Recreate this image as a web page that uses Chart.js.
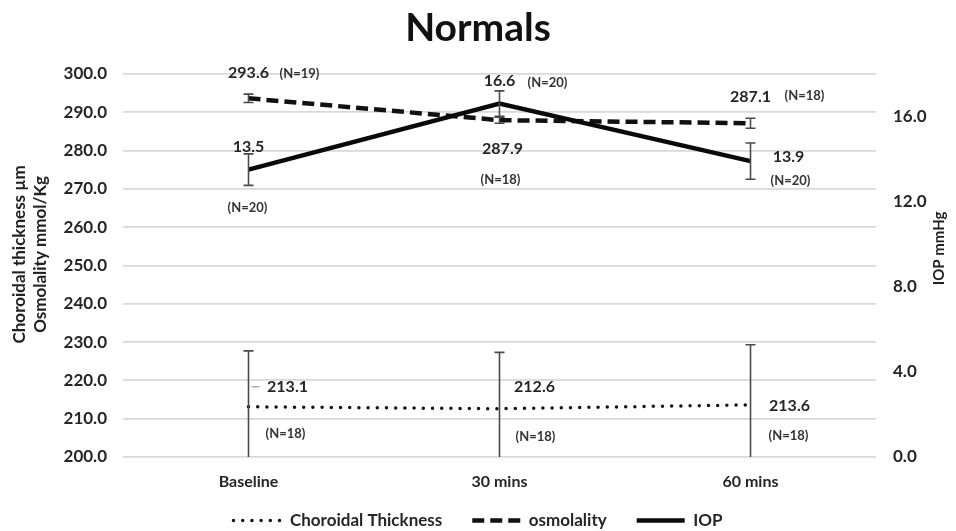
<!DOCTYPE html>
<html>
<head>
<meta charset="utf-8">
<script src="https://cdn.jsdelivr.net/npm/chart.js@4.4.1/dist/chart.umd.min.js"></script>
<style>
html,body{margin:0;padding:0;background:#fff;}
#wrap{width:956px;height:531px;position:relative;}
</style>
</head>
<body>
<div id="wrap"><canvas id="c" width="956" height="531"></canvas></div>
<script>
// ---- data ----
const categories = ['Baseline', '30 mins', '60 mins'];
const choroidal = [213.1, 212.6, 213.6];
const choroidalErr = [14.6, 14.7, 15.7];
const choroidalN = ['(N=18)', '(N=18)', '(N=18)'];
const osmolality = [293.6, 287.9, 287.1];
const osmolalityErr = [1.1, 0.8, 1.3];
const osmolalityN = ['(N=19)', '(N=18)', '(N=18)'];
const iop = [13.5, 16.6, 13.9];
const iopErr = [0.74, 0.6, 0.85];
const iopN = ['(N=20)', '(N=20)', '(N=20)'];
const leftRange = [200, 300, 10];
const rightRange = [0, 18, 4];
const titleText = 'Normals';
const leftTitle = ['Choroidal thickness µm', 'Osmolality mmol/Kg'];
const rightTitle = 'IOP mmHg';

const FONT = 'Lato';

// label placement (offsets from each point, in px)
const labelPlacement = {
  choroidal: [
    {v: [39, -20], n: [37, 27], leader: true},
    {v: [35, -22], n: [36, 28]},
    {v: [39, 1], n: [38, 31]}
  ],
  osmolality: [
    {v: [0, -25], n: [51, -25]},
    {v: [3, 29], n: [1, 60]},
    {v: [0, -26], n: [54, -27]}
  ],
  iop: [
    {v: [0, -23], n: [-1, 38]},
    {v: [0, -23], n: [48, -21]},
    {v: [38, -4], n: [40, 20]}
  ]
};

const legendFitPlugin = {
  id: 'legendFit',
  beforeInit(chart) {
    const lg = chart.legend;
    const orig = lg.fit;
    lg.fit = function () {
      orig.call(this);
      this.height = 28;
    };
  },
  afterLayout(chart) {
    chart.legend.top -= 15;
    chart.legend.bottom = chart.height;
  }
};

const errorBarPlugin = {
  id: 'errorBars',
  afterDatasetsDraw(chart) {
    const ctx = chart.ctx;
    const area = chart.chartArea;
    ctx.save();
    ctx.beginPath();
    ctx.rect(area.left, area.top - 1, area.right - area.left, area.bottom - area.top + 2);
    ctx.clip();
    ctx.strokeStyle = '#4a4a4a';
    ctx.lineWidth = 1.6;
    chart.data.datasets.forEach((ds, di) => {
      const meta = chart.getDatasetMeta(di);
      const ys = chart.scales[ds.yAxisID];
      ds.errors.forEach((e, i) => {
        const pt = meta.data[i];
        const x = pt.x;
        const v = ds.data[i];
        const yT = ys.getPixelForValue(v + e);
        const yB = ys.getPixelForValue(v - e);
        ctx.beginPath();
        ctx.moveTo(x, Math.max(yT, area.top));
        ctx.lineTo(x, Math.min(yB, area.bottom));
        if (yT >= area.top) { ctx.moveTo(x - 5, yT); ctx.lineTo(x + 5, yT); }
        if (yB <= area.bottom) { ctx.moveTo(x - 5, yB); ctx.lineTo(x + 5, yB); }
        ctx.stroke();
      });
    });
    ctx.restore();
  }
};

const labelsPlugin = {
  id: 'pointLabels',
  afterDraw(chart) {
    const ctx = chart.ctx;
    ctx.save();
    ctx.textAlign = 'center';
    ctx.textBaseline = 'middle';
    chart.data.datasets.forEach((ds, di) => {
      const meta = chart.getDatasetMeta(di);
      const place = labelPlacement[ds.key];
      ds.data.forEach((v, i) => {
        const pt = meta.data[i];
        const p = place[i];
        ctx.fillStyle = '#262626';
        ctx.font = 'bold 16px ' + FONT;
        ctx.fillText(v.toFixed(1), pt.x + p.v[0], pt.y + p.v[1]);
        ctx.font = 'bold 13px ' + FONT;
        ctx.fillStyle = '#333333';
        ctx.fillText(ds.nLabels[i], pt.x + p.n[0], pt.y + p.n[1]);
        if (p.leader) {
          ctx.strokeStyle = '#888';
          ctx.lineWidth = 1;
          ctx.beginPath();
          ctx.moveTo(pt.x + 3, pt.y + p.v[1]);
          ctx.lineTo(pt.x + 11, pt.y + p.v[1]);
          ctx.stroke();
        }
      });
    });
    // axis titles
    ctx.fillStyle = '#222';
    ctx.font = 'bold 17px ' + FONT;
    const cy = (chart.chartArea.top + chart.chartArea.bottom) / 2 - 11;
    ctx.save();
    ctx.translate(20, cy);
    ctx.rotate(-Math.PI / 2);
    ctx.fillText(leftTitle[0], 0, 0);
    ctx.restore();
    ctx.save();
    ctx.translate(41, cy);
    ctx.rotate(-Math.PI / 2);
    ctx.fillText(leftTitle[1], 0, 0);
    ctx.restore();
    ctx.font = 'bold 15px ' + FONT;
    ctx.save();
    ctx.translate(939, cy - 6);
    ctx.rotate(-Math.PI / 2);
    ctx.fillText(rightTitle, 0, 0);
    ctx.restore();
    ctx.restore();
  }
};

new Chart(document.getElementById('c'), {
  type: 'line',
  data: {
    labels: categories,
    datasets: [
      {
        key: 'choroidal', label: 'Choroidal Thickness', data: choroidal, errors: choroidalErr, nLabels: choroidalN,
        yAxisID: 'y', borderColor: '#111', backgroundColor: '#111', borderWidth: 3.5,
        borderDash: [0, 9.2], borderCapStyle: 'round', pointRadius: 0, tension: 0, order: 2
      },
      {
        key: 'osmolality', label: 'osmolality', data: osmolality, errors: osmolalityErr, nLabels: osmolalityN,
        yAxisID: 'y', borderColor: '#111', backgroundColor: '#111', borderWidth: 4.5,
        borderDash: [12, 6], borderCapStyle: 'butt', pointRadius: 0, tension: 0, order: 1
      },
      {
        key: 'iop', label: 'IOP', data: iop, errors: iopErr, nLabels: iopN,
        yAxisID: 'y1', borderColor: '#0a0a0a', backgroundColor: '#0a0a0a', borderWidth: 4.5,
        borderDash: [], borderCapStyle: 'butt',
        pointRadius: 0, tension: 0, order: 0
      }
    ]
  },
  options: {
    responsive: false,
    animation: false,
    devicePixelRatio: 1,
    layout: { padding: { left: 0, right: 0, top: 5, bottom: 6 } },
    plugins: {
      title: {
        display: true, text: titleText, color: '#111',
        font: { family: FONT, size: 39, weight: 'bold' },
        padding: { top: 0, bottom: 22 }
      },
      legend: {
        position: 'bottom',
        labels: {
          usePointStyle: true, pointStyle: 'line', pointStyleWidth: 48,
          color: '#262626', padding: 30,
          font: { family: FONT, size: 17, weight: 'bold' },
          generateLabels(chart) {
            return chart.data.datasets.map((ds, i) => ({
              text: ds.label, fillStyle: ds.borderColor, strokeStyle: ds.borderColor,
              lineWidth: ds.borderWidth, lineDash: ds.borderDash, lineCap: ds.borderCapStyle,
              pointStyle: 'line', datasetIndex: i, hidden: false, fontColor: '#262626'
            }));
          }
        }
      },
      tooltip: { enabled: false }
    },
    scales: {
      x: {
        offset: true,
        afterFit(s) { s.height = 40; },
        grid: { display: false }, border: { display: false },
        ticks: { color: '#262626', padding: 7, font: { family: FONT, size: 16, weight: 'bold' } }
      },
      y: {
        position: 'left', min: leftRange[0], max: leftRange[1],
        afterFit(s) { s.width = 123; },
        grid: { color: '#d9d9d9', lineWidth: 1.8, drawTicks: false },
        border: { display: false },
        ticks: {
          stepSize: leftRange[2], padding: 16, color: '#262626',
          font: { family: FONT, size: 17, weight: 'bold' },
          callback: v => Number(v).toFixed(1)
        }
      },
      y1: {
        position: 'right', min: rightRange[0], max: rightRange[1],
        afterFit(s) { s.width = 80; },
        grid: { display: false, drawTicks: false },
        border: { display: false },
        ticks: {
          stepSize: rightRange[2], includeBounds: false, padding: 17, color: '#262626',
          font: { family: FONT, size: 17, weight: 'bold' },
          callback: v => Number(v).toFixed(1)
        }
      }
    }
  },
  plugins: [legendFitPlugin, errorBarPlugin, labelsPlugin]
});
</script>
</body>
</html>
